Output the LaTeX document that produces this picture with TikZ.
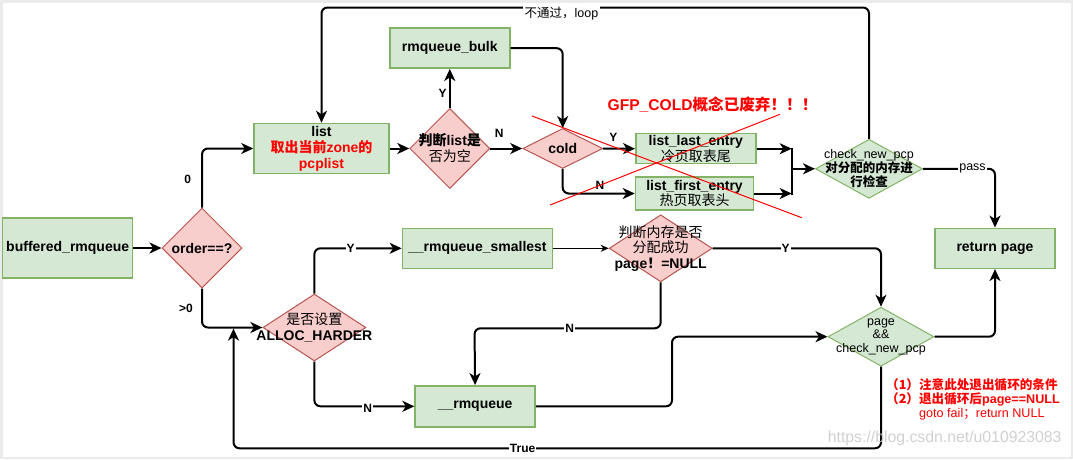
\documentclass[tikz,border=0pt]{standalone}
\usepackage{fontspec}
\setmainfont{Liberation Sans}
\newfontfamily\cjk{Noto Sans CJK SC}
\usetikzlibrary{arrows.meta,shapes.geometric,calc}
\definecolor{gfill}{HTML}{D5E8D4}
\definecolor{gline}{HTML}{82B366}
\definecolor{rfill}{HTML}{F8CECC}
\definecolor{rline}{HTML}{B85450}
\definecolor{redtxt}{HTML}{FF0000}
\definecolor{framec}{HTML}{EBEBEB}
\definecolor{wmc}{HTML}{C8C8C8}
\newcommand\zh[1]{{\cjk #1}}
\newcommand\zhn[1]{{\cjk\mdseries #1}}
\newcommand\zhb[1]{{\cjk\bfseries #1}}
\begin{document}
\begin{tikzpicture}[x=1pt,y=-1pt,
  gbox/.style={draw=gline, fill=gfill, line width=1.5pt, inner sep=1pt, align=center,
    font=\fontsize{14}{16}\selectfont\bfseries},
  rdia/.style={diamond, draw=rline, fill=rfill, line width=1pt, inner sep=0pt},
  gdia/.style={diamond, draw=gline, fill=gfill, line width=1pt, inner sep=0pt},
  dtxt/.style={align=center, inner sep=0pt, font=\fontsize{14}{16}\selectfont\bfseries},
  stxt/.style={align=center, inner sep=0pt, font=\fontsize{12.5}{14}\selectfont},
  arr/.style={line width=2pt, rounded corners=6pt, -{Stealth[length=12pt,width=11pt,inset=3.5pt]}},
  plain/.style={line width=2pt},
  thinarr/.style={line width=1pt, -{Stealth[length=8pt,width=7pt,inset=2.5pt]}},
  elbl/.style={inner sep=1pt, font=\fontsize{12}{14}\selectfont\bfseries},
  olbl/.style={elbl, fill=white},
  strike/.style={draw=redtxt, line width=1pt}
]
\useasboundingbox (0,0) rectangle (1073,459);
\fill[white] (0,0) rectangle (1073,459);
\draw[framec, line width=2.5pt] (1.25,1.25) rectangle (1071.75,457.75);

% nodes
\node[gbox, minimum width=130pt, minimum height=60pt] (buf) at (67.7,248) {buffered\_rmqueue};
\node[rdia, minimum width=80pt, minimum height=80pt, label={[dtxt]center:order==?}] (ord) at (202,248) {};
\node[gbox, minimum width=135pt, minimum height=50pt] (list) at (321.5,148.5)
  {list\\\textcolor{redtxt}{\zh{取出当前}zone\zh{的}}\\\textcolor{redtxt}{pcplist}};
\node[rdia, minimum width=80pt, minimum height=80pt,
  label={[dtxt]center:\zh{判断}list\zh{是}\\\zhn{否为空}}] (empty) at (449.8,148.5) {};
\node[gbox, minimum width=120pt, minimum height=40pt] (bulk) at (449.8,48.2) {rmqueue\_bulk};
\node[rdia, minimum width=80pt, minimum height=40pt, label={[dtxt]center:cold}] (cold) at (562.7,148.5) {};
\node[gbox, minimum width=120pt, minimum height=30pt, font=\fontsize{14}{14}\selectfont\bfseries] (last) at (695.8,148.7)
  {list\_last\_entry\\\zhn{冷页取表尾}};
\node[gbox, minimum width=118pt, minimum height=33pt, font=\fontsize{14}{14}\selectfont\bfseries] (first) at (694.5,193.5)
  {list\_first\_entry\\\zhn{热页取表头}};
\node[gdia, minimum width=107pt, minimum height=59pt,
  label={[stxt]center:check\_new\_pcp\\\zhb{对分配的内存进}\\\zhb{行检查}}] (check) at (869,168.8) {};
\node[gbox, minimum width=120pt, minimum height=40pt] (ret) at (995,248.3) {return page};
\node[rdia, minimum width=103pt, minimum height=67pt,
  label={[dtxt]center:\zhn{是否设置}\\ALLOC\_HARDER}] (alloc) at (314.4,327.5) {};
\node[gbox, minimum width=150pt, minimum height=40pt] (small) at (477.4,248.3) {\_\_rmqueue\_smallest};
\node[rdia, minimum width=103pt, minimum height=67pt,
  label={[dtxt, font=\fontsize{14}{15.5}\selectfont\bfseries]center:\zhn{判断内存是否}\\\zhn{分配成功}\\page\zh{！}=NULL}] (mem) at (660.7,248.3) {};
\node[gbox, minimum width=120pt, minimum height=41pt] (rmq) at (475.1,406.3) {\_\_rmqueue};
\node[gdia, minimum width=106pt, minimum height=59pt,
  label={[stxt, font=\fontsize{12.5}{13.7}\selectfont]center:page\\\&\&\\check\_new\_pcp}] (page) at (881,336.7) {};

% helper coordinates
\coordinate (top) at (321.5,7.5);
\coordinate (jn) at (791.7,168.8);
\coordinate (mn) at (474.5,328.3);
\coordinate (rk) at (672,336.7);
\coordinate (tb) at (233.5,448.3);
\coordinate (merge) at (233.5,328.6);

% connectors
\draw[arr] (buf.east) -- (ord.west);
\draw[arr] (ord.north) |- (list.west);
\draw[arr] (ord.south) |- (alloc.west);
\draw[arr] (list.east) -- (empty.west);
\draw[arr] (empty.north) -- (bulk.south);
\draw[arr] (empty.east) -- (cold.west);
\draw[arr] (bulk.east) -| (cold.north);
\draw[arr] (cold.east) -- (last.west);
\draw[arr] (cold.south) |- (first.west);
\draw[arr] (last.east) -- (last.east -| jn);
\draw[arr] (first.east) -- (first.east -| jn);
\draw[plain] ($(last.east -| jn)+(0,-1)$) -- ($(first.east -| jn)+(0,1)$);
\draw[arr] (jn) -- (check.west);
\draw[arr] (check.north) |- (top) -- (list.north);
\draw[arr] (check.east) -| (ret.north);
\draw[arr] (alloc.north) |- (small.west);
\draw[arr] (alloc.south) |- (rmq.west);
\draw[thinarr] (small.east) -- (mem.west);
\draw[arr] (mem.east) -| (page.north);
\draw[arr] (mem.south) |- (mn) -- (rmq.north);
\draw[arr] (rmq.east) -| (rk) -- (page.west);
\draw[arr] (page.east) -| (ret.south);
\draw[arr] (page.south) |- (tb) -- (merge);

% edge labels
\node[elbl] (l0) at (187.7,179.3) {0};
\node[elbl] (lgt) at (186,308.3) {>0};
\node[elbl] (ly1) at (442.5,93) {Y};
\node[elbl] (ln1) at (499.3,133) {N};
\node[elbl] (ly2) at (613.3,137.7) {Y};
\node[elbl] (ln2) at (600,185) {N};
\node[olbl] (ly3) at (350.6,248.3) {Y};
\node[olbl] (ln3) at (367.8,408) {N};
\node[olbl] (ly4) at (785.5,248.3) {Y};
\node[olbl] (ln4) at (569.8,328.3) {N};
\node[olbl] (ltrue) at (522.6,448.3) {True};
\node[olbl, font=\fontsize{12.5}{14}\selectfont] (lpass) at (972.5,168.8) {pass};
\node[olbl, font=\fontsize{12.5}{14}\selectfont, inner sep=1.5pt] (lloop) at (561.4,13.3) {\zh{不通过，}loop};

% deprecated note and strike lines
\coordinate (sa1) at (532,116);
\coordinate (sa2) at (801.7,217.7);
\coordinate (sb1) at (550,205);
\coordinate (sb2) at (780,114.3);
\draw[strike] (sa1) -- (sa2);
\draw[strike] (sb1) -- (sb2);
\node[text=redtxt, inner sep=0pt, font=\fontsize{15.6}{17}\selectfont\bfseries] (gfp) at (712.5,105)
  {GFP\_COLD\zh{概念已废弃！！！}};

% annotation
\node[anchor=west, align=left, inner sep=0pt, text=redtxt, font=\fontsize{12.6}{14}\selectfont\bfseries] (note) at (886,399.5)
  {\zh{（1）注意此处退出循环的条件}\\\zh{（2）退出循环后}page==NULL\\\hspace*{33pt}\textmd{goto fail}\zhn{；}\textmd{return NULL}};

% watermark
\node[text=wmc, text opacity=0.85, inner sep=0pt, font=\fontsize{15.8}{18}\selectfont] (wmk) at (944.7,438.3)
  {https://blog.csdn.net/u010923083};
\end{tikzpicture}
\end{document}
